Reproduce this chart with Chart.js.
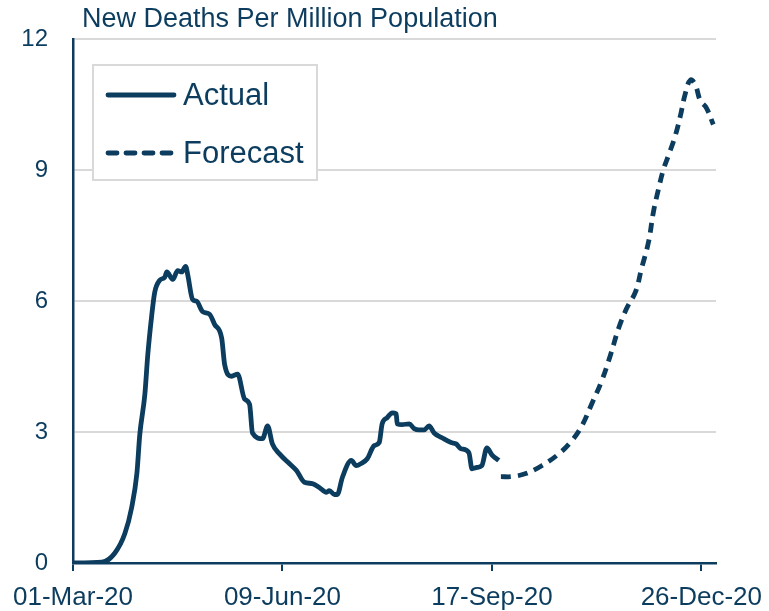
<!DOCTYPE html>
<html lang="en">
<head>
    <meta charset="UTF-8">
    <title>New Deaths Per Million Population</title>
    <script src="https://cdn.jsdelivr.net/npm/chart.js"></script>
    <style>
        body { margin: 0; background: #fff; }
        #wrap { width: 769px; height: 611px; position: relative; }
    </style>
</head>
<body>
    <div id="wrap"><canvas id="mainChart"></canvas></div>

    <script>
        // days since 01-Mar-20
        const actualDays = [0, 13.8, 20, 24.8, 28, 30.5, 31.9, 34.3, 35.7, 37.6, 39, 41.4, 43.8, 44.8, 47.6, 50, 51.9, 53.8, 54.8,
            57.1, 59, 61.9, 65.2, 67.6, 71, 72.4, 75.7, 78.6, 81.9, 84.3, 85.7, 90.5, 92.9, 95.2, 98.6, 103.3, 106.7,
            110.5, 114.3, 117.6, 121, 122.4, 124.8, 126.2, 128.6, 132.9, 135.2, 137.6, 140.5, 143.8, 146.2, 147.6,
            150, 152.4, 154.3, 154.8, 157.1, 160.5, 162.9, 165.2, 167.6, 170, 172.4, 176.2, 180.5, 182.9, 185.2,
            189, 190.5, 192.9, 195.2, 197.6, 200, 203.3];
        const actualValues = [0, 0.02, 0.23, 0.68, 1.27, 2.05, 2.95, 3.86, 4.77, 5.68, 6.2, 6.48, 6.55, 6.67, 6.5, 6.7, 6.67, 6.8, 6.6,
            6.04, 6.0, 5.76, 5.7, 5.47, 5.15, 4.55, 4.28, 4.33, 3.76, 3.64, 2.98, 2.85, 3.14, 2.73, 2.5, 2.28, 2.12,
            1.85, 1.82, 1.73, 1.62, 1.66, 1.57, 1.57, 1.96, 2.35, 2.23, 2.28, 2.39, 2.69, 2.76, 3.19,
            3.33, 3.44, 3.42, 3.19, 3.17, 3.19, 3.08, 3.05, 3.05, 3.14, 2.98, 2.87, 2.76, 2.73, 2.62,
            2.53, 2.16, 2.19, 2.23, 2.64, 2.48, 2.35];

        const forecastDays = [204.3, 209.5, 216.2, 223.8, 231.9, 238.1, 242.9, 247.6, 252.4, 256.7, 260.5, 264.3, 268.6,
            271.4, 274.8, 277.1, 279.5, 281.9, 284.3, 287.6, 290, 292.4, 294.8, 297.1, 299.5, 302.4, 305.7];
        const forecastValues = [1.98, 1.98, 2.05, 2.23, 2.5, 2.8, 3.14, 3.64, 4.17, 4.78, 5.38, 5.83, 6.22,
            6.74, 7.36, 8.04, 8.56, 9.02, 9.34, 9.8, 10.25, 10.77, 11.07, 10.96, 10.6, 10.43, 10.05];

        const tickDays = [0, 100, 200, 300];
        const tickLabels = ['01-Mar-20', '09-Jun-20', '17-Sep-20', '26-Dec-20'];

        const chartTitle = 'New Deaths Per Million Population';
        const navy = '#0c3c5e';
        const gridGrey = '#d9d9d9';
        const fontFamily = 'Arial, "Liberation Sans", sans-serif';

        function toPoints(days, values) {
            return days.map((d, i) => ({ x: d, y: values[i] }));
        }

        // title and boxed legend are drawn by hand, they sit inside the plot
        const overlayPlugin = {
            id: 'overlay',
            afterDraw(chart) {
                const ctx = chart.ctx;
                ctx.save();
                ctx.fillStyle = navy;
                ctx.font = '27px ' + fontFamily;
                ctx.textBaseline = 'alphabetic';
                ctx.fillText(chartTitle, 82, 27);

                ctx.fillStyle = '#fff';
                ctx.fillRect(93, 65, 224, 115);
                ctx.strokeStyle = gridGrey;
                ctx.lineWidth = 2;
                ctx.strokeRect(93, 65, 224, 115);

                const rows = [95, 153];
                chart.data.datasets.forEach((ds, i) => {
                    const y = rows[i];
                    ctx.beginPath();
                    ctx.strokeStyle = ds.borderColor;
                    ctx.lineWidth = ds.borderWidth;
                    ctx.lineCap = 'round';
                    ctx.setLineDash(ds.borderDash && ds.borderDash.length ? [9, 9] : []);
                    ctx.moveTo(108, y);
                    ctx.lineTo(174, y);
                    ctx.stroke();
                    ctx.setLineDash([]);
                    ctx.fillStyle = navy;
                    ctx.font = '31px ' + fontFamily;
                    ctx.textBaseline = 'middle';
                    ctx.fillText(ds.label, 183, y + 1);
                });
                ctx.restore();
            }
        };

        const ctx = document.getElementById('mainChart').getContext('2d');
        const chart = new Chart(ctx, {
            type: 'line',
            data: {
                datasets: [{
                    label: 'Actual',
                    data: toPoints(actualDays, actualValues),
                    borderColor: navy,
                    borderWidth: 4.8,
                    pointRadius: 0,
                    cubicInterpolationMode: 'monotone',
                    borderJoinStyle: 'round'
                }, {
                    label: 'Forecast',
                    data: toPoints(forecastDays, forecastValues),
                    borderColor: navy,
                    borderWidth: 4.8,
                    borderDash: [10, 7],
                    pointRadius: 0,
                    tension: 0.4
                }]
            },
            options: {
                responsive: true,
                maintainAspectRatio: false,
                animation: false,
                layout: { padding: { top: 36, right: 53, left: 0, bottom: 0 } },
                plugins: {
                    legend: { display: false },
                    title: { display: false },
                    tooltip: { enabled: false }
                },
                scales: {
                    x: {
                        type: 'linear',
                        min: 0,
                        max: 307,
                        afterBuildTicks: (scale) => {
                            scale.ticks = tickDays.map(v => ({ value: v }));
                        },
                        afterFit: (scale) => {
                            scale.height = 48;
                            // let the end label hang past the plot like the original
                            scale.paddingLeft = 0;
                            scale.paddingRight = 0;
                        },
                        ticks: {
                            color: navy,
                            font: { family: fontFamily, size: 26 },
                            padding: 11,
                            maxRotation: 0,
                            autoSkip: false,
                            callback: (value) => tickLabels[tickDays.indexOf(value)]
                        },
                        grid: {
                            drawOnChartArea: false,
                            drawTicks: true,
                            tickLength: 8,
                            color: navy,
                            lineWidth: 2
                        },
                        border: { display: true, color: navy, width: 2.5 }
                    },
                    y: {
                        min: 0,
                        max: 12,
                        afterFit: (scale) => { scale.width = 73; },
                        ticks: {
                            stepSize: 3,
                            color: navy,
                            padding: 25,
                            font: { family: fontFamily, size: 24 }
                        },
                        grid: {
                            drawTicks: false,
                            color: gridGrey,
                            lineWidth: 2
                        },
                        border: { display: true, color: navy, width: 2.5 }
                    }
                }
            },
            plugins: [overlayPlugin]
        });
    </script>
</body>
</html>
